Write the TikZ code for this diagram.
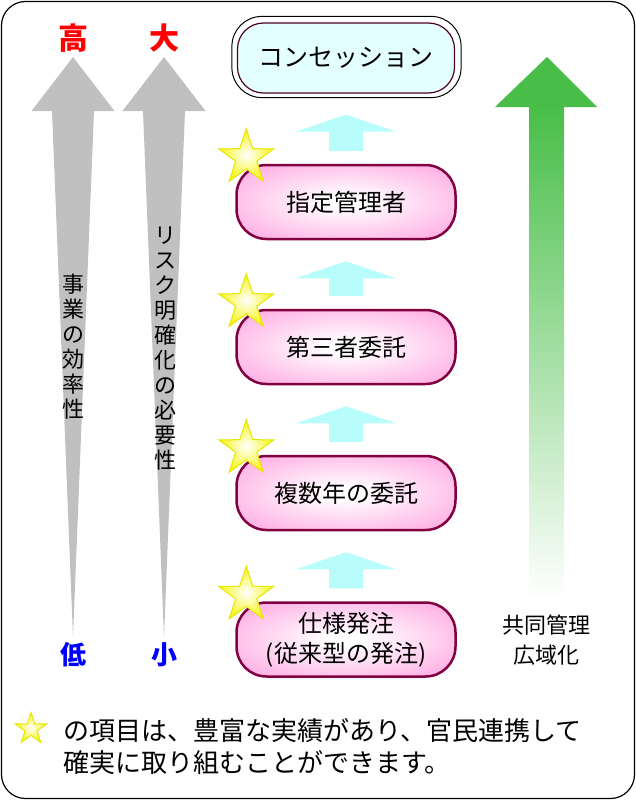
\documentclass[tikz,border=0pt]{standalone}
\usepackage{fontspec}
\setmainfont{Noto Sans CJK JP}
\usepackage{tikz}
\usetikzlibrary{shapes.geometric,calc,positioning}
\definecolor{arrowgray}{RGB}{192,192,192}
\definecolor{arrowcyan}{RGB}{185,252,252}
\definecolor{arrowgreen}{RGB}{72,190,72}
\definecolor{boxpink}{RGB}{255,168,226}
\definecolor{boxedge}{RGB}{128,0,64}
\definecolor{conccyan}{RGB}{228,255,255}
\definecolor{stargold}{RGB}{230,230,0}
\definecolor{staryellow}{RGB}{245,245,20}
\pgfdeclareradialshading{glow}{\pgfpoint{0bp}{0bp}}{color(0bp)=(white); color(4bp)=(white); color(34bp)=(boxpink); color(50bp)=(boxpink)}
\tikzset{
stage/.style={rectangle, rounded corners=30, draw=boxedge, line width=2.5, minimum width=219, minimum height=74, inner sep=0pt, shading=glow, align=center, font=\fontsize{24}{30}\selectfont}, % the pink steps
starmark/.style={star, star points=5, star point ratio=2.6, draw=stargold, line width=1, inner sep=0pt, minimum size=58, inner color=white, outer color=staryellow},
vlabel/.style={align=center, inner sep=0pt, font=\fontsize{22}{25}\selectfont}, % upright stacked text
endlabel/.style={inner sep=0pt, font=\bfseries\fontsize{30}{32}\selectfont}
}
% block arrow from the lower step (#1) up to the upper one (#2)
\newcommand\stepup[2]{%
    \path ($(#1.north)+(0,-13)$) coordinate (tail) ($(#2.south)+(0,21)$) coordinate (tip);
    \fill[arrowcyan] (tip) -- ($(tip)+(50,17)$) -- ($(tip)+(17,17)$) -- ($(tail)+(17,0)$)
        -- ($(tail)+(-17,0)$) -- ($(tip)+(-17,17)$) -- ($(tip)+(-50,17)$) -- cycle;
}
\begin{document}
\begin{tikzpicture}[x=1pt,y=-1pt]
    \useasboundingbox (0,0) rectangle (636,800);
    \draw[line width=1.2, rounded corners=24] (1.5,1.5) rectangle (634.5,798.5);
    % gray arrows
    \foreach \x in {73,164}
        \fill[arrowgray] (\x,57) -- (\x+41.5,111) -- (\x+21,111) -- (\x,637) -- (\x-21,111) -- (\x-41.5,111) -- cycle;
    \node[endlabel, text=red] (high) at (73,38) {高};
    \node[endlabel, text=red] (large) at (164,38) {大};
    \node[endlabel, text=blue, font=\bfseries\fontsize{26}{28}\selectfont] (low) at (73,655) {低};
    \node[endlabel, text=blue, font=\bfseries\fontsize{26}{28}\selectfont] (small) at (164,655) {小};
    \node[vlabel] (eff) at (73,347) {事\\業\\の\\効\\率\\性};
    \node[vlabel] (risk) at (165,349) {リ\\ス\\ク\\明\\確\\化\\の\\必\\要\\性};
    % green arrow
    \fill[arrowgreen] (547,57) -- (597,107) -- (495,107) -- cycle;
    \shade[top color=arrowgreen, bottom color=white] (529,106.5) rectangle (564,600);
    \node[align=center, inner sep=0pt, font=\fontsize{22}{30}\selectfont] (wide) at (546,640) {共同管理\\広域化};
    % steps
    \node[rectangle, rounded corners=26, draw=boxedge!60!black, line width=1.2, fill=conccyan, minimum width=217, minimum height=70, font=\fontsize{25}{30}\selectfont] (conc) at (346,58) {コンセッション};
    \draw[line width=1, rounded corners=30] ($(conc.north west)+(-5,-6)$) rectangle ($(conc.south east)+(6,4)$);
    \node[stage] (shitei) at (346,202) {指定管理者};
    \node[stage] (daisan) at (346,347) {第三者委託};
    \node[stage] (fukusu) at (346,493) {複数年の委託};
    \node[stage] (shiyou) at (346,639.5) {仕様発注\\(従来型の発注)};
    \stepup{shitei}{conc}
    \stepup{daisan}{shitei}
    \stepup{fukusu}{daisan}
    \stepup{shiyou}{fukusu}
    \foreach \s in {shitei,daisan,fukusu,shiyou}
        \node[starmark] at ($(\s.north west)+(11,-6)$) {};
    % legend
    \node[starmark, minimum size=33] (key) at (31,729) {};
    \node[anchor=west, align=left, inner sep=0pt, font=\fontsize{26}{32}\selectfont] (note) at (63,747) {の項目は、豊富な実績があり、官民連携して\\確実に取り組むことができます。};
\end{tikzpicture}
\end{document}
